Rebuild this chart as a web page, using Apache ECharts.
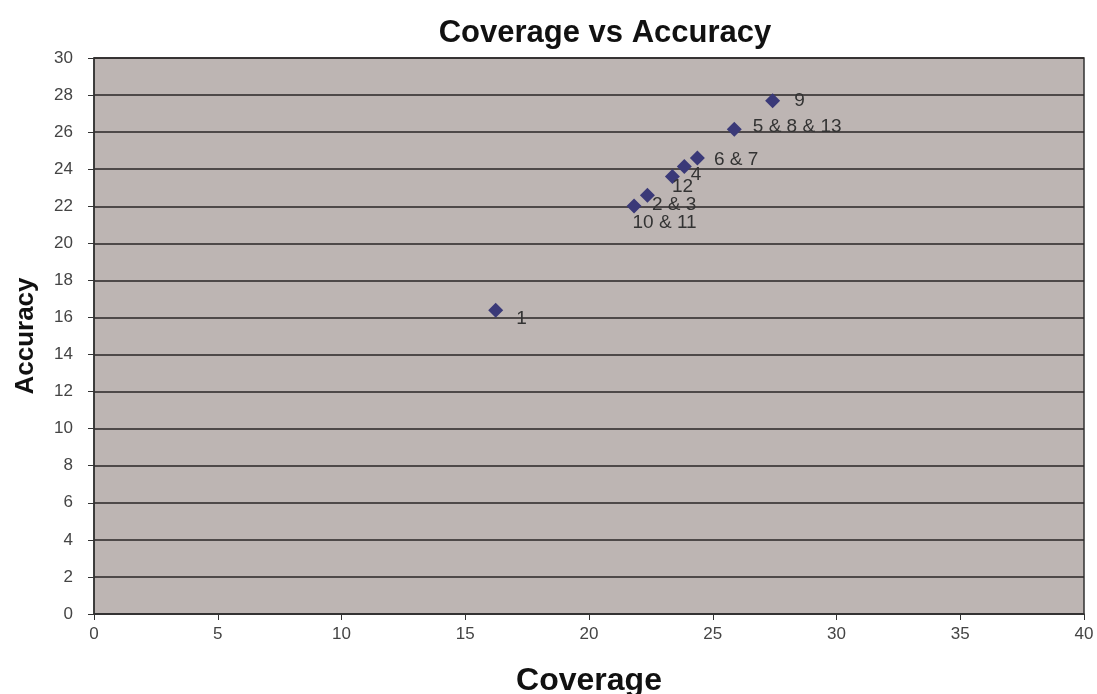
<!DOCTYPE html>
<html>
<head>
<meta charset="utf-8">
<script src="https://cdn.jsdelivr.net/npm/echarts@6/dist/echarts.min.js"></script>
<style>
html,body{margin:0;padding:0;background:#fff;}
#chart{width:1097px;height:694px;}
</style>
</head>
<body>
<div id="chart"></div>
<script>
// Data
const pointLabels = ['1', '10 & 11', '2 & 3', '12', '4', '6 & 7', '5 & 8 & 13', '9'];
const coverage    = [16.23, 21.82, 22.36, 23.37, 23.85, 24.38, 25.87, 27.42];
const accuracy    = [16.39, 22.02, 22.60, 23.60, 24.14, 24.61, 26.15, 27.70];
const xTicks = [0, 5, 10, 15, 20, 25, 30, 35, 40];
const yTicks = [0, 2, 4, 6, 8, 10, 12, 14, 16, 18, 20, 22, 24, 26, 28, 30];

// label placement (style, kept separate from the data)
const labelOffsets = [[13, 9], [-9, 17], [-3, 10], [-8, 10], [-1, 8], [9, 2], [11, -3], [14, 0]];

const FONT = '"Liberation Sans", Arial, sans-serif';
const seriesData = coverage.map((x, i) => ({
  value: [x, accuracy[i]],
  name: pointLabels[i],
  label: {
    show: true,
    position: 'right',
    distance: 0,
    offset: labelOffsets[i],
    formatter: pointLabels[i],
    color: '#333',
    fontSize: 19,
    fontFamily: FONT
  }
}));

const chart = echarts.init(document.getElementById('chart'), null, {renderer: 'canvas'});
chart.setOption({
  animation: false,
  backgroundColor: '#fff',
  title: {
    text: 'Coverage vs Accuracy',
    left: 600,
    textAlign: 'center',
    top: 13,
    textStyle: {fontFamily: FONT, fontWeight: 'bold', fontSize: 31, color: '#111'}
  },
  grid: {
    left: 94, right: 13, top: 58, bottom: 80,
    outerBoundsMode: 'none',
    containLabel: false,
    show: true,
    backgroundColor: '#bdb5b3',
    borderColor: '#333',
    borderWidth: 1.5
  },
  xAxis: {
    type: 'value',
    min: xTicks[0], max: xTicks[xTicks.length - 1], interval: 5,
    name: 'Coverage',
    nameLocation: 'middle',
    nameGap: 51,
    nameTextStyle: {fontFamily: FONT, fontWeight: 'bold', fontSize: 32, color: '#111'},
    axisLine: {show: true, lineStyle: {color: '#333', width: 1.5}},
    axisTick: {show: true, inside: false, length: 6, lineStyle: {color: '#333'}},
    axisLabel: {color: '#444', fontSize: 17, fontFamily: FONT, margin: 12},
    splitLine: {show: false}
  },
  yAxis: {
    type: 'value',
    min: yTicks[0], max: yTicks[yTicks.length - 1], interval: 2,
    name: 'Accuracy',
    nameLocation: 'middle',
    nameGap: 55,
    nameRotate: 90,
    nameTextStyle: {fontFamily: FONT, fontWeight: 'bold', fontSize: 26, color: '#111'},
    axisLine: {show: true, lineStyle: {color: '#333', width: 1.5}},
    axisTick: {show: true, inside: false, length: 6, lineStyle: {color: '#333'}},
    axisLabel: {color: '#444', fontSize: 17, fontFamily: FONT, margin: 21},
    splitLine: {show: true, lineStyle: {color: '#2a2626', width: 1.6}}
  },
  series: [{
    type: 'scatter',
    symbol: 'diamond',
    symbolSize: 15,
    itemStyle: {color: '#3a3978', opacity: 1},
    data: seriesData
  }]
});
</script>
</body>
</html>
